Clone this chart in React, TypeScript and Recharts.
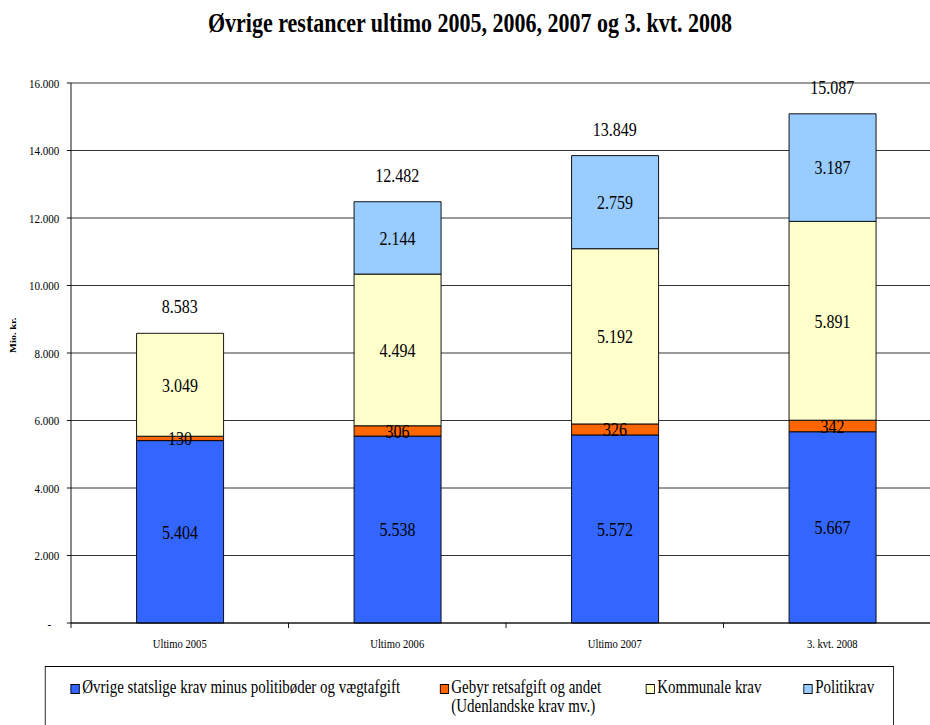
import {
  Bar,
  CartesianGrid,
  ComposedChart,
  LabelList,
  Line,
  XAxis,
  YAxis,
} from "recharts";

const categories = ["Ultimo 2005", "Ultimo 2006", "Ultimo 2007", "3. kvt. 2008"];
const ovrigeStatslige = [5404, 5538, 5572, 5667];
const gebyr = [130, 306, 326, 342];
const kommunale = [3049, 4494, 5192, 5891];
const politikrav = [null, 2144, 2759, 3187];
const totals = [8583, 12482, 13849, 15087];
const yTicks = [0, 2000, 4000, 6000, 8000, 10000, 12000, 14000, 16000];

const FONT = '"Liberation Serif", "Times New Roman", Times, serif';

// The original picture is squeezed horizontally; draw wide and scale x by K.
const K = 0.83;
const px = (v: number) => v / K;

const CHART_W = 1160;
const CHART_H = 725;
const Y_AXIS_W = px(71);
const MARGIN_RIGHT = CHART_W - px(941);
const PLOT_W = CHART_W - Y_AXIS_W - MARGIN_RIGHT;
const HALF_BAND = PLOT_W / categories.length / 2;

const COLORS = {
  ovrige: "#3366FF",
  gebyr: "#FF6600",
  kommunale: "#FFFFCC",
  politi: "#99CCFF",
};

const data = categories.map((name, i) => ({
  name,
  ovrige: ovrigeStatslige[i],
  gebyr: gebyr[i],
  kommunale: kommunale[i],
  politi: politikrav[i],
  total: totals[i],
}));

// Danish thousands separator
function fmt(v: number | null | undefined): string {
  if (v == null || v === 0) return "";
  return String(v).replace(/\B(?=(\d{3})+(?!\d))/g, ".");
}

function XTick(props: { x?: number; y?: number; payload?: { value: string }; index?: number }) {
  const { x = 0, y = 0, payload, index = 0 } = props;
  const last = index === categories.length - 1;
  return (
    <g>
      <line x1={x - HALF_BAND} y1={y} x2={x - HALF_BAND} y2={y + 5} stroke="#000" />
      {last && <line x1={x + HALF_BAND} y1={y} x2={x + HALF_BAND} y2={y + 5} stroke="#000" />}
      <text x={x} y={y + 25} textAnchor="middle" fontSize={12.8} fontFamily={FONT} fill="#000">
        {payload?.value}
      </text>
    </g>
  );
}

const legendItems = [
  { color: COLORS.ovrige, left: 70, lines: ["Øvrige statslige krav minus politibøder og vægtafgift"] },
  { color: COLORS.gebyr, left: 439, lines: ["Gebyr retsafgift og andet", "(Udenlandske krav mv.)"] },
  { color: COLORS.kommunale, left: 645, lines: ["Kommunale krav"] },
  { color: COLORS.politi, left: 803, lines: ["Politikrav"] },
];

export default function App() {
  const labelStyle = { fontSize: 19.3, fontFamily: FONT, fill: "#000" };
  return (
    <div
      style={{
        position: "absolute",
        left: 0,
        top: 0,
        width: 930,
        height: 725,
        overflow: "hidden",
        background: "#fff",
      }}
    >
      <div
        style={{
          position: "absolute",
          left: 0,
          top: 0,
          width: CHART_W,
          height: CHART_H,
          transform: `scaleX(${K})`,
          transformOrigin: "0 0",
          fontFamily: FONT,
        }}
      >
        <div
          style={{
            position: "absolute",
            left: 0,
            top: 8,
            width: px(470) * 2,
            textAlign: "center",
            fontWeight: "bold",
            fontSize: 26.5,
            lineHeight: "30px",
          }}
        >
          Øvrige restancer ultimo 2005, 2006, 2007 og 3. kvt. 2008
        </div>
        <ComposedChart
          width={CHART_W}
          height={CHART_H}
          data={data}
          margin={{ top: 83, right: MARGIN_RIGHT, left: 0, bottom: 72 }}
          style={{ position: "absolute", left: 0, top: 0 }}
        >
          <CartesianGrid vertical={false} stroke="#222" />
          <XAxis
            dataKey="name"
            height={30}
            tickSize={0}
            tickMargin={0}
            tickLine={false}
            axisLine={{ stroke: "#000" }}
            tick={<XTick />}
            interval={0}
          />
          <YAxis
            width={Y_AXIS_W}
            domain={[0, 16000]}
            ticks={yTicks}
            interval={0}
            tickSize={5}
            tickMargin={9}
            axisLine={{ stroke: "#000" }}
            tickLine={{ stroke: "#000" }}
            tick={{ fontSize: 13.3, fill: "#000", fontFamily: FONT }}
            tickFormatter={(v: number) => (v === 0 ? "-\u00a0\u00a0\u00a0" : fmt(v))}
            label={{
              value: "Mio. kr.",
              angle: -90,
              position: "insideLeft",
              offset: 15,
              style: { fontSize: 10.5, fontWeight: "bold", fill: "#000", fontFamily: FONT },
            }}
          />
          <Bar dataKey="ovrige" stackId="a" fill={COLORS.ovrige} stroke="#000" strokeWidth={1} barSize={px(87)} isAnimationActive={false}>
            <LabelList dataKey="ovrige" position="center" formatter={fmt} style={labelStyle} />
          </Bar>
          <Bar dataKey="gebyr" stackId="a" fill={COLORS.gebyr} stroke="#000" strokeWidth={1} barSize={px(87)} isAnimationActive={false}>
            <LabelList dataKey="gebyr" position="center" formatter={fmt} style={labelStyle} />
          </Bar>
          <Bar dataKey="kommunale" stackId="a" fill={COLORS.kommunale} stroke="#000" strokeWidth={1} barSize={px(87)} isAnimationActive={false}>
            <LabelList dataKey="kommunale" position="center" formatter={fmt} style={labelStyle} />
          </Bar>
          <Bar dataKey="politi" stackId="a" fill={COLORS.politi} stroke="#000" strokeWidth={1} barSize={px(87)} isAnimationActive={false}>
            <LabelList dataKey="politi" position="center" formatter={fmt} style={labelStyle} />
          </Bar>
          {/* invisible series carrying the totals above each stack */}
          <Line
            dataKey="total"
            stroke="none"
            dot={false}
            activeDot={false}
            legendType="none"
            isAnimationActive={false}
          >
            <LabelList dataKey="total" position="top" offset={20} formatter={fmt} style={labelStyle} />
          </Line>
        </ComposedChart>
        <div
          style={{
            position: "absolute",
            left: px(45),
            top: 666,
            width: px(894) - px(45),
            height: 80,
            border: "1px solid #000",
            boxSizing: "border-box",
            fontSize: 18,
          }}
        >
          {legendItems.map((item) => (
            <div
              key={item.lines[0]}
              style={{
                position: "absolute",
                left: px(item.left) - px(45),
                top: 11,
                display: "flex",
                alignItems: "flex-start",
              }}
            >
              <span
                style={{
                  display: "inline-block",
                  width: px(9) - 2,
                  height: 8,
                  marginTop: 6,
                  marginRight: 3,
                  background: item.color,
                  border: "1px solid #000",
                }}
              />
              <span style={{ lineHeight: "19px", whiteSpace: "nowrap" }}>
                {item.lines.map((l) => (
                  <div key={l}>{l}</div>
                ))}
              </span>
            </div>
          ))}
        </div>
      </div>
    </div>
  );
}
